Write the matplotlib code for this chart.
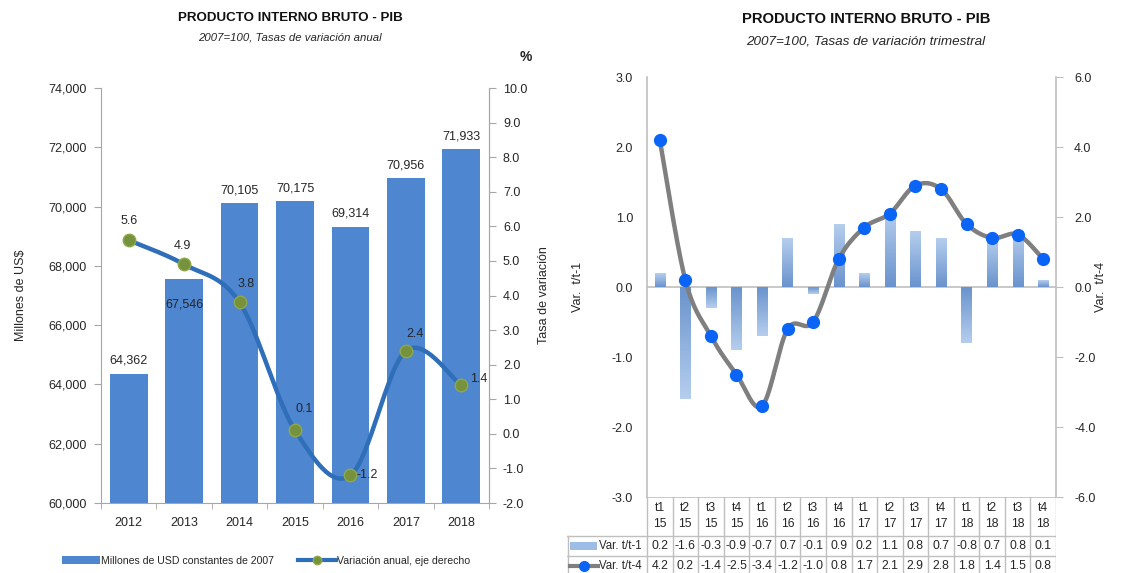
import numpy as np
import matplotlib
matplotlib.use("Agg")
import matplotlib.pyplot as plt
from matplotlib.lines import Line2D
from matplotlib.patches import Patch
from matplotlib.colors import LinearSegmentedColormap

plt.rcParams['font.family'] = ['Liberation Sans', 'DejaVu Sans']

# ---- Annual data ----
years = ['2012', '2013', '2014', '2015', '2016', '2017', '2018']
pib_usd = [64362, 67546, 70105, 70175, 69314, 70956, 71933]
var_anual = [5.6, 4.9, 3.8, 0.1, -1.2, 2.4, 1.4]

# ---- Quarterly data ----
trimestres = ['t1', 't2', 't3', 't4'] * 4
anios_trim = ['15'] * 4 + ['16'] * 4 + ['17'] * 4 + ['18'] * 4
var_t1 = [0.2, -1.6, -0.3, -0.9, -0.7, 0.7, -0.1, 0.9, 0.2, 1.1, 0.8, 0.7, -0.8, 0.7, 0.8, 0.1]
var_t4 = [4.2, 0.2, -1.4, -2.5, -3.4, -1.2, -1.0, 0.8, 1.7, 2.1, 2.9, 2.8, 1.8, 1.4, 1.5, 0.8]

W, H = 1126, 573
fig = plt.figure(figsize=(W / 100, H / 100), dpi=100)
fig.patch.set_facecolor('white')

GRAY = '#A6A6A6'
TXT = '#262626'


def px_box(x0, y0, x1, y1):
    """Figure-fraction rectangle from pixel edges (origin top-left)."""
    return [x0 / W, 1 - y1 / H, (x1 - x0) / W, (y1 - y0) / H]


def smooth_curve(x, y, n=30):
    """Piecewise cubic Bezier through the points (spreadsheet-style smoothing)."""
    pts = np.column_stack([x, y]).astype(float)
    P = np.vstack([pts[0], pts, pts[-1]])
    t = np.linspace(0, 1, n)[:, None]
    out = []
    for i in range(len(pts) - 1):
        p0, p1, p2, p3 = P[i], P[i + 1], P[i + 2], P[i + 3]
        c1 = p1 + (p2 - p0) / 6.0
        c2 = p2 - (p3 - p1) / 6.0
        seg = ((1 - t) ** 3) * p1 + 3 * ((1 - t) ** 2) * t * c1 + 3 * (1 - t) * t ** 2 * c2 + t ** 3 * p2
        out.append(seg if i == 0 else seg[1:])
    out = np.vstack(out)
    return out[:, 0], out[:, 1]


# =================== Left chart ===================
ax = fig.add_axes(px_box(101, 88, 489, 503))
x = np.arange(len(years))
bars = ax.bar(x, pib_usd, width=0.68, color='#4F86D0', zorder=2)
ax.set_xlim(-0.5, len(years) - 0.5)
ax.set_ylim(60000, 74000)
ax.set_yticks(np.arange(60000, 74001, 2000))
ax.set_yticklabels([f'{v:,.0f}' for v in np.arange(60000, 74001, 2000)])
ax.set_xticks(x)
ax.set_xticklabels(years)
ax.set_xticks(np.arange(-0.5, len(years), 1), minor=True)
ax.tick_params(axis='x', which='major', length=0, pad=10, labelsize=9, colors=TXT)
ax.tick_params(axis='x', which='minor', length=4, color=GRAY, direction='out')
ax.tick_params(axis='y', length=5, color=GRAY, pad=5, labelsize=9, colors=TXT)
ax.spines['top'].set_visible(False)
for s in ['left', 'right', 'bottom']:
    ax.spines[s].set_color(GRAY)
ax.set_ylabel('Millones de US$', fontsize=9, color=TXT, labelpad=16)

for i, (b, v) in enumerate(zip(bars, pib_usd)):
    dy = -25 if years[i] == '2013' else 13
    ax.annotate(f'{v:,}', (b.get_x() + b.get_width() / 2, v), xytext=(0, dy),
                textcoords='offset pixels', ha='center', va='center', fontsize=9, color=TXT, zorder=5)

ax2 = ax.twinx()
ax2.set_ylim(-2, 10)
ax2.set_yticks(np.arange(-2, 10.01, 1))
ax2.set_yticklabels([f'{v:.1f}' for v in np.arange(-2, 10.01, 1)])
ax2.tick_params(axis='y', length=5, color=GRAY, pad=5, labelsize=9, colors=TXT)
for s in ['top', 'left', 'bottom']:
    ax2.spines[s].set_visible(False)
ax2.spines['right'].set_color(GRAY)
ax2.set_ylabel('Tasa de variación', fontsize=9, color=TXT, labelpad=8)

sx, sy = smooth_curve(x, var_anual)
ax2.plot(sx, sy, color='#2F6EB8', lw=3.2, zorder=3, solid_capstyle='round')
ax2.plot(x, var_anual, 'o', ms=9, color='#76923C', mec='#8FA84A', zorder=4)
offs = [(0, 19), (-2, 18), (7, 18), (9, 21), (17, 0), (9, 17), (17, 6)]
for xi, v, o in zip(x, var_anual, offs):
    ax2.annotate(f'{v:.1f}', (xi, v), xytext=o, textcoords='offset pixels',
                 ha='center', va='center', fontsize=9, color=TXT, zorder=5)

fig.text(290 / W, 1 - 18 / H, 'PRODUCTO INTERNO BRUTO - PIB', ha='center', va='center',
         fontsize=9.6, fontweight='bold', color='#111111')
fig.text(290 / W, 1 - 38 / H, '2007=100, Tasas de variación anual', ha='center', va='center',
         fontsize=8.2, style='italic', color=TXT)
fig.text(526 / W, 1 - 57 / H, '%', ha='center', va='center', fontsize=10, fontweight='bold', color=TXT)

handles = [Patch(facecolor='#4F86D0', edgecolor='none'),
           Line2D([0], [0], color='#2F6EB8', lw=3, marker='o', ms=6, mfc='#76923C', mec='#8FA84A')]
fig.legend(handles, ['Millones de USD constantes de 2007', 'Variación anual, eje derecho'],
           loc='center', bbox_to_anchor=(266 / W, 1 - 561 / H), ncol=2, frameon=False,
           fontsize=7.6, handlelength=3.6, handleheight=0.8, handletextpad=0.1,
           columnspacing=2.2, labelcolor=TXT)

# =================== Right chart ===================
L, R, T, B = 647, 1056, 77, 497
bx = fig.add_axes(px_box(L, T, R, B))
n = len(var_t1)
q = np.arange(n)
bx.set_yticks(np.arange(-3, 3.01, 1))
bx.set_yticklabels([f'{v:.1f}' for v in np.arange(-3, 3.01, 1)])
bx.tick_params(axis='y', length=0, pad=10, labelsize=9, colors=TXT)
bx.set_xticks([])
for s in ['top', 'bottom', 'right']:
    bx.spines[s].set_visible(False)
bx.spines['left'].set_color('#BFBFBF')
bx.spines['left'].set_linewidth(1.2)
bx.axhline(0, color='#BFBFBF', lw=1.2, zorder=1)
bx.set_ylabel('Var.  t/t-1', fontsize=9, color=TXT, labelpad=20)

# gradient bars: darker near the zero line, lighter at the tip
grad = LinearSegmentedColormap.from_list('g', ['#6A93CD', '#B5CEEE'])
bw = 0.4
qbars = bx.bar(q, var_t1, width=bw, color='none', zorder=2)
for b, v in zip(qbars, var_t1):
    x0 = b.get_x()
    g = np.linspace(0, 1, 64)[:, None]
    if v >= 0:
        ext, img = (x0, x0 + bw, 0, v), g
    else:
        ext, img = (x0, x0 + bw, v, 0), g[::-1]
    im = bx.imshow(img, cmap=grad, extent=ext, origin='lower', aspect='auto', zorder=2)
    im.set_clip_path(b)
bx.set_xlim(-0.5, n - 0.5)
bx.set_ylim(-3, 3)

bx2 = bx.twinx()
bx2.set_ylim(-6, 6)
bx2.set_yticks(np.arange(-6, 6.01, 2))
bx2.set_yticklabels([f'{v:.1f}' for v in np.arange(-6, 6.01, 2)])
bx2.tick_params(axis='y', length=5, color='#BFBFBF', pad=8, labelsize=9, colors=TXT)
for s in ['top', 'bottom', 'left']:
    bx2.spines[s].set_visible(False)
bx2.spines['right'].set_color('#BFBFBF')
bx2.spines['right'].set_linewidth(1.2)
bx2.set_ylabel('Var.  t/t-4', fontsize=9, color=TXT, labelpad=0)
qx, qy = smooth_curve(q, var_t4)
bx2.plot(qx, qy, color='#7F7F7F', lw=3.2, zorder=3)
bx2.plot(q, var_t4, 'o', ms=8.5, color='#0A64F5', mec='#0A64F5', zorder=4)

fig.text(866 / W, 1 - 19 / H, 'PRODUCTO INTERNO BRUTO - PIB', ha='center', va='center',
         fontsize=10.6, fontweight='bold', color='#111111')
fig.text(866 / W, 1 - 42 / H, '2007=100, Tasas de variación trimestral', ha='center', va='center',
         fontsize=9.7, style='italic', color=TXT)

# ---- data table under the quarterly chart ----
TL = 567
slot = (R - L) / n
tx = fig.add_axes(px_box(TL, B, R, 577))
lx0 = -0.5 - (L - TL) / slot
tx.set_xlim(lx0, n - 0.5)
tx.set_ylim(80, 0)
tx.axis('off')
LC = '#BFBFBF'
tx.plot([-0.5, n - 0.5], [0, 0], color=LC, lw=1.2)
for yv in (39, 59):
    tx.plot([lx0, n - 0.5], [yv, yv], color=LC, lw=1)
for k in range(n + 1):
    tx.plot([k - 0.5, k - 0.5], [0, 80], color=LC, lw=1)
tx.plot([lx0 + 0.02] * 2, [39, 80], color=LC, lw=1)
for k in range(n):
    tx.text(k, 19, f'{trimestres[k]}\n{anios_trim[k]}', ha='center', va='center',
            fontsize=8.8, color=TXT, linespacing=1.35)
    tx.text(k, 49, f'{var_t1[k]:.1f}', ha='center', va='center', fontsize=8.8, color=TXT)
    tx.text(k, 69, f'{var_t4[k]:.1f}', ha='center', va='center', fontsize=8.8, color=TXT)

tx.add_patch(plt.Rectangle((lx0 + 0.12, 45), 1.05, 8, color='#9DBDE6', lw=0))
tx.text(lx0 + 1.25, 49, 'Var. t/t-1', ha='left', va='center', fontsize=8.3, color=TXT)
tx.plot([lx0 + 0.12, lx0 + 1.2], [69, 69], color='#7F7F7F', lw=3)
tx.plot([lx0 + 0.66], [69], 'o', ms=7, color='#0A64F5')
tx.text(lx0 + 1.25, 69, 'Var. t/t-4', ha='left', va='center', fontsize=8.3, color=TXT)

fig.savefig('out.png', dpi=100, facecolor='white')
